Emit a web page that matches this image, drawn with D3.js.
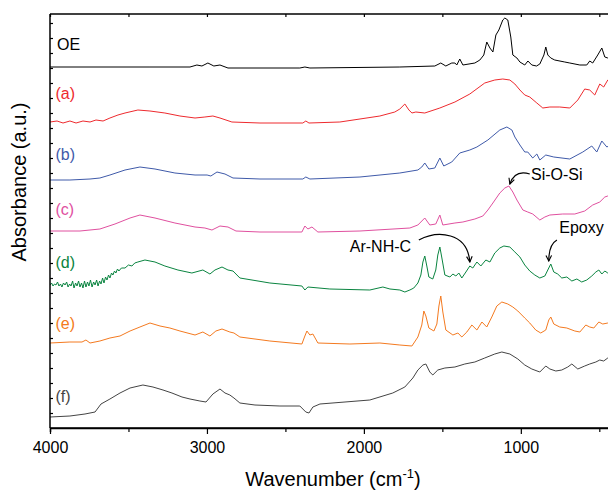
<!DOCTYPE html>
<html>
<head>
<meta charset="utf-8">
<script src="https://cdn.jsdelivr.net/npm/d3@7"></script>
<style>
  body { margin: 0; background: #fff; }
  text { font-family: "Liberation Sans", Arial, sans-serif; }
</style>
</head>
<body>
<div id="chart"></div>
<script>
// FTIR spectra, [wavenumber (cm-1), absorbance (a.u., stacked)]
var specOE = [[4000,3.61],[3363,3.61],[3108,3.61],[3064,3.63],[3032,3.62],[2994,3.65],[2956,3.62],[2917,3.63],[2866,3.60],
  [2408,3.60],[2376,3.61],[2344,3.60],[1771,3.61],[1548,3.62],[1510,3.65],[1478,3.62],[1440,3.65],[1420,3.65],[1408,3.63],
  [1389,3.69],[1369,3.63],[1293,3.65],[1261,3.68],[1236,3.73],[1217,3.86],[1197,3.80],[1178,3.76],[1159,3.93],[1140,3.98],
  [1115,4.08],[1102,4.10],[1083,4.08],[1064,3.91],[1051,3.73],[1025,3.70],[1006,3.66],[975,3.63],[955,3.67],[930,3.63],
  [900,3.62],[879,3.64],[853,3.73],[841,3.81],[828,3.73],[809,3.70],[784,3.68],[720,3.66],[688,3.65],[624,3.63],
  [580,3.63],[561,3.67],[542,3.65],[510,3.73],[484,3.80],[465,3.71],[446,3.70],[402,3.66]];

var specA = [[4000,3.06],[3955,3.07],[3917,3.05],[3873,3.07],[3834,3.05],[3790,3.07],[3745,3.06],[3707,3.08],[3662,3.07],
  [3618,3.10],[3567,3.13],[3522,3.15],[3440,3.18],[3363,3.17],[3268,3.15],[3172,3.12],[3076,3.10],[3013,3.11],[2962,3.12],
  [2917,3.10],[2841,3.06],[2662,3.05],[2389,3.05],[2370,3.07],[2350,3.05],[2153,3.06],[1898,3.12],[1803,3.16],[1771,3.19],
  [1739,3.24],[1713,3.18],[1694,3.15],[1669,3.16],[1612,3.15],[1516,3.20],[1420,3.26],[1325,3.34],[1230,3.45],[1166,3.48],
  [1115,3.49],[1070,3.48],[1038,3.44],[1006,3.38],[975,3.33],[943,3.31],[898,3.25],[860,3.20],[815,3.21],[752,3.21],
  [688,3.20],[637,3.28],[593,3.39],[561,3.38],[529,3.33],[497,3.44],[472,3.41],[446,3.48],[402,3.50]];

var specB = [[4000,2.48],[3873,2.48],[3745,2.49],[3682,2.50],[3618,2.53],[3522,2.58],[3427,2.61],[3331,2.59],[3204,2.55],
  [3076,2.53],[2999,2.53],[2975,2.52],[2936,2.56],[2885,2.54],[2834,2.50],[2662,2.49],[2389,2.49],[2370,2.51],[2344,2.49],
  [2025,2.51],[1771,2.55],[1656,2.58],[1631,2.61],[1612,2.65],[1586,2.59],[1548,2.60],[1516,2.70],[1491,2.62],[1440,2.66],
  [1389,2.75],[1325,2.78],[1280,2.81],[1210,2.88],[1134,2.98],[1089,3.01],[1057,2.98],[1038,2.91],[1006,2.83],[975,2.76],
  [956,2.76],[924,2.70],[898,2.74],[879,2.68],[841,2.73],[790,2.71],[688,2.69],[605,2.76],[548,2.82],[516,2.76],
  [484,2.87],[452,2.81],[402,2.85]];

var specC = [[4000,1.97],[3809,1.97],[3682,1.99],[3586,2.04],[3490,2.10],[3427,2.13],[3331,2.10],[3204,2.05],[3076,2.01],
  [3013,2.00],[2968,1.98],[2917,2.02],[2866,2.01],[2815,1.97],[2662,1.96],[2395,1.96],[2376,2.02],[2357,1.99],[2331,2.01],
  [2293,1.96],[2025,1.97],[1707,2.00],[1656,2.03],[1612,2.10],[1580,2.03],[1542,2.04],[1516,2.13],[1497,2.03],[1420,2.05],
  [1369,2.06],[1293,2.09],[1242,2.12],[1210,2.18],[1178,2.25],[1134,2.35],[1102,2.40],[1076,2.42],[1051,2.36],[1025,2.28],
  [987,2.18],[956,2.16],[924,2.14],[879,2.08],[847,2.11],[815,2.13],[733,2.14],[656,2.14],[593,2.17],[542,2.23],
  [497,2.26],[465,2.31],[446,2.32],[402,2.33]];

var specD = [[4000,1.43],[3990,1.45],[3981,1.42],[3971,1.44],[3962,1.43],[3952,1.46],[3943,1.42],[3933,1.44],[3924,1.41],
  [3914,1.45],[3904,1.43],[3894,1.46],[3885,1.41],[3875,1.44],[3866,1.42],[3856,1.47],[3847,1.40],[3837,1.45],[3828,1.42],
  [3818,1.47],[3809,1.41],[3799,1.45],[3790,1.40],[3780,1.47],[3771,1.41],[3761,1.46],[3752,1.42],[3742,1.48],[3732,1.41],
  [3722,1.46],[3713,1.43],[3703,1.48],[3694,1.42],[3684,1.47],[3675,1.44],[3665,1.50],[3656,1.45],[3646,1.51],[3637,1.48],
  [3627,1.53],[3618,1.50],[3608,1.55],[3599,1.53],[3589,1.57],[3580,1.55],[3570,1.59],[3561,1.57],[3545,1.60],[3522,1.60],
  [3500,1.63],[3478,1.62],[3460,1.65],[3440,1.66],[3395,1.68],[3331,1.66],
  [3268,1.62],[3185,1.58],[3096,1.55],[3026,1.58],[2981,1.54],[2949,1.58],[2904,1.61],[2866,1.58],[2834,1.57],[2790,1.50],
  [2599,1.45],[2395,1.42],[2376,1.38],[2357,1.41],[2217,1.39],[1962,1.38],[1879,1.41],[1834,1.39],[1771,1.38],[1739,1.36],
  [1707,1.38],[1682,1.40],[1656,1.45],[1637,1.53],[1624,1.66],[1612,1.72],[1599,1.62],[1586,1.51],[1561,1.49],[1542,1.58],
  [1529,1.73],[1516,1.81],[1503,1.70],[1484,1.53],[1452,1.51],[1433,1.54],[1414,1.52],[1395,1.55],[1376,1.50],[1350,1.56],
  [1325,1.62],[1306,1.60],[1280,1.66],[1255,1.62],[1223,1.68],[1197,1.66],[1166,1.75],[1134,1.80],[1108,1.82],[1070,1.81],
  [1038,1.76],[1006,1.71],[975,1.63],[943,1.57],[911,1.53],[879,1.50],[847,1.52],[822,1.60],[809,1.64],[790,1.56],
  [765,1.54],[739,1.50],[707,1.51],[675,1.47],[643,1.49],[612,1.46],[580,1.48],[548,1.52],[522,1.56],[503,1.58],
  [484,1.54],[465,1.57],[446,1.55],[402,1.58]];

var specE = [[4000,0.85],[3873,0.86],[3796,0.86],[3771,0.88],[3745,0.85],[3682,0.87],[3618,0.90],[3554,0.92],[3490,0.97],
  [3427,1.01],[3363,1.05],[3299,1.02],[3236,1.00],[3172,0.97],[3076,0.93],[3026,0.96],[2981,0.92],[2943,0.97],[2904,0.99],
  [2854,0.96],[2828,0.95],[2790,0.91],[2599,0.87],[2395,0.84],[2376,0.92],[2363,0.97],[2344,0.93],[2325,0.94],[2293,0.85],
  [2089,0.84],[1898,0.85],[1771,0.83],[1694,0.82],[1656,0.91],[1631,1.03],[1618,1.17],[1605,1.12],[1586,1.00],[1554,0.97],
  [1535,1.04],[1522,1.22],[1510,1.32],[1497,1.16],[1478,0.98],[1433,0.93],[1401,0.95],[1376,0.91],[1344,0.96],[1312,1.03],
  [1280,0.98],[1248,1.06],[1217,1.01],[1185,1.11],[1153,1.22],[1121,1.26],[1083,1.24],[1051,1.21],[1019,1.17],[975,1.10],
  [943,1.05],[905,0.98],[873,0.95],[841,0.98],[822,1.08],[809,1.11],[790,1.04],[752,1.01],[707,1.00],[656,0.97],
  [624,0.96],[586,1.03],[561,1.01],[535,1.00],[503,1.06],[478,1.04],[446,1.05],[402,1.08]];

var specF = [[4000,0.11],[3873,0.12],[3777,0.14],[3713,0.16],[3694,0.20],[3675,0.24],[3618,0.29],[3554,0.35],[3490,0.40],
  [3408,0.43],[3344,0.41],[3280,0.38],[3223,0.35],[3159,0.31],[3108,0.29],[3045,0.27],[3006,0.26],[2962,0.34],[2917,0.39],
  [2885,0.35],[2854,0.33],[2828,0.30],[2790,0.25],[2694,0.23],[2535,0.22],[2408,0.22],[2389,0.19],[2370,0.16],[2350,0.15],
  [2325,0.21],[2280,0.24],[1962,0.28],[1816,0.35],[1739,0.41],[1688,0.50],[1656,0.58],[1624,0.63],[1605,0.64],[1580,0.56],
  [1561,0.53],[1529,0.58],[1484,0.60],[1420,0.61],[1357,0.64],[1293,0.66],[1230,0.70],[1166,0.74],[1121,0.76],[1070,0.74],
  [1019,0.69],[975,0.63],[930,0.59],[879,0.56],[841,0.62],[815,0.59],[777,0.57],[739,0.58],[701,0.61],[675,0.64],
  [637,0.59],[593,0.62],[561,0.64],[522,0.66],[497,0.68],[472,0.67],[446,0.70],[402,0.71]];

var seriesData = [specOE, specA, specB, specC, specD, specE, specF];
var seriesNames = ["OE", "(a)", "(b)", "(c)", "(d)", "(e)", "(f)"];
var seriesColors = ["#000000", "#ee2a2e", "#3f5aa9", "#e0509f", "#0a8440", "#f47a20", "#444444"];
// label anchor [wavenumber, absorbance]
var labelPos = [[3955, 3.78], [3965, 3.29], [3965, 2.68], [3965, 2.13], [3965, 1.60], [3965, 0.99], [3965, 0.26]];

var xTicks = [4000, 3000, 2000, 1000];
var xMinor = [3500, 2500, 1500, 500];

// annotations: text position, arrow start, control points, arrow end
var notes = [
  {text: "Si-O-Si", at: [935, 2.48], path: [[943, 2.54], [1025, 2.58], [1057, 2.50], [1070, 2.44]]},
  {text: "Ar-NH-C", at: [2090, 1.76], path: [[1650, 1.88], [1530, 1.98], [1340, 1.96], [1325, 1.66]]},
  {text: "Epoxy",   at: [755, 1.95], path: [[770, 1.88], [815, 1.84], [822, 1.76], [822, 1.67]]}
];

var W = 608, H = 492;
var margin = {top: 14, left: 50, bottom: 64};

var svg = d3.select("#chart").append("svg")
  .attr("width", W).attr("height", H);

var x = d3.scaleLinear().domain([4000, 400]).range([margin.left, 615]);
var y = d3.scaleLinear().domain([0, 4.14]).range([H - margin.bottom, margin.top]);

svg.append("defs").append("clipPath").attr("id", "clip")
  .append("rect").attr("x", margin.left).attr("y", margin.top)
  .attr("width", W - margin.left).attr("height", y(0) - margin.top);

svg.append("defs").append("marker")
  .attr("id", "arrow").attr("viewBox", "0 0 10 10")
  .attr("refX", 9).attr("refY", 5)
  .attr("markerWidth", 7).attr("markerHeight", 7)
  .attr("markerUnits", "userSpaceOnUse")
  .attr("orient", "auto")
  .append("path").attr("d", "M1,1 L9,5 L1,9").attr("fill", "none")
  .attr("stroke", "#000").attr("stroke-width", 1.6);

// spectra
var line = d3.line().x(d => x(d[0])).y(d => y(d[1]));
var g = svg.append("g").attr("clip-path", "url(#clip)");
seriesData.forEach(function(s, i) {
  g.append("path").datum(s)
    .attr("fill", "none")
    .attr("stroke", seriesColors[i])
    .attr("stroke-width", 1)
    .attr("stroke-linejoin", "round")
    .attr("d", line);
  svg.append("text")
    .attr("x", x(labelPos[i][0])).attr("y", y(labelPos[i][1]))
    .attr("font-size", 16)
    .attr("fill", seriesColors[i])
    .text(seriesNames[i]);
});

// axes
var xAxis = svg.append("g").attr("transform", "translate(0," + y(0) + ")")
  .call(d3.axisBottom(x).tickValues(xTicks).tickSize(6).tickFormat(d3.format("d")));
svg.append("g").attr("transform", "translate(0," + y(0) + ")")
  .call(d3.axisBottom(x).tickValues(xMinor).tickSize(4).tickFormat(""));
xAxis.selectAll("text").attr("font-size", 16).attr("dy", "1.0em").attr("fill", "#000")
  .style("font-family", "Liberation Sans, Arial, sans-serif");

var topAxis = svg.append("g").attr("transform", "translate(0," + margin.top + ")")
  .call(d3.axisTop(x).tickValues(xTicks.concat(xMinor)).tickSize(-3).tickFormat(""));

var yAxis = svg.append("g").attr("transform", "translate(" + margin.left + ",0)")
  .call(d3.axisLeft(y).tickValues(d3.range(1, 28).map(k => k * 0.15)).tickSize(-3).tickFormat(""));

svg.selectAll(".domain").attr("stroke-width", 1.5);
svg.selectAll(".tick line").attr("stroke-width", 1.2);
yAxis.select(".domain").attr("d", "M0," + y(0) + "V" + margin.top);
topAxis.select(".domain").attr("d", "M" + margin.left + ",0H" + W);
xAxis.select(".domain").attr("d", "M" + margin.left + ",0H" + W);

// annotations
notes.forEach(function(n) {
  svg.append("text").attr("x", x(n.at[0])).attr("y", y(n.at[1]))
    .attr("font-size", 16).text(n.text);
  var p = n.path.map(d => [x(d[0]), y(d[1])]);
  svg.append("path")
    .attr("d", "M" + p[0] + "C" + p[1] + " " + p[2] + " " + p[3])
    .attr("fill", "none").attr("stroke", "#000").attr("stroke-width", 1.2)
    .attr("marker-end", "url(#arrow)");
});

// axis titles
var xt = svg.append("text")
  .attr("x", 333).attr("y", 486)
  .attr("text-anchor", "middle").attr("font-size", 20);
xt.append("tspan").text("Wavenumber (cm");
xt.append("tspan").attr("font-size", 13).attr("dy", -8).text("-1");
xt.append("tspan").attr("dy", 8).text(")");

svg.append("text")
  .attr("transform", "translate(26,182) rotate(-90)")
  .attr("text-anchor", "middle").attr("font-size", 20)
  .text("Absorbance (a.u.)");
</script>
</body>
</html>
